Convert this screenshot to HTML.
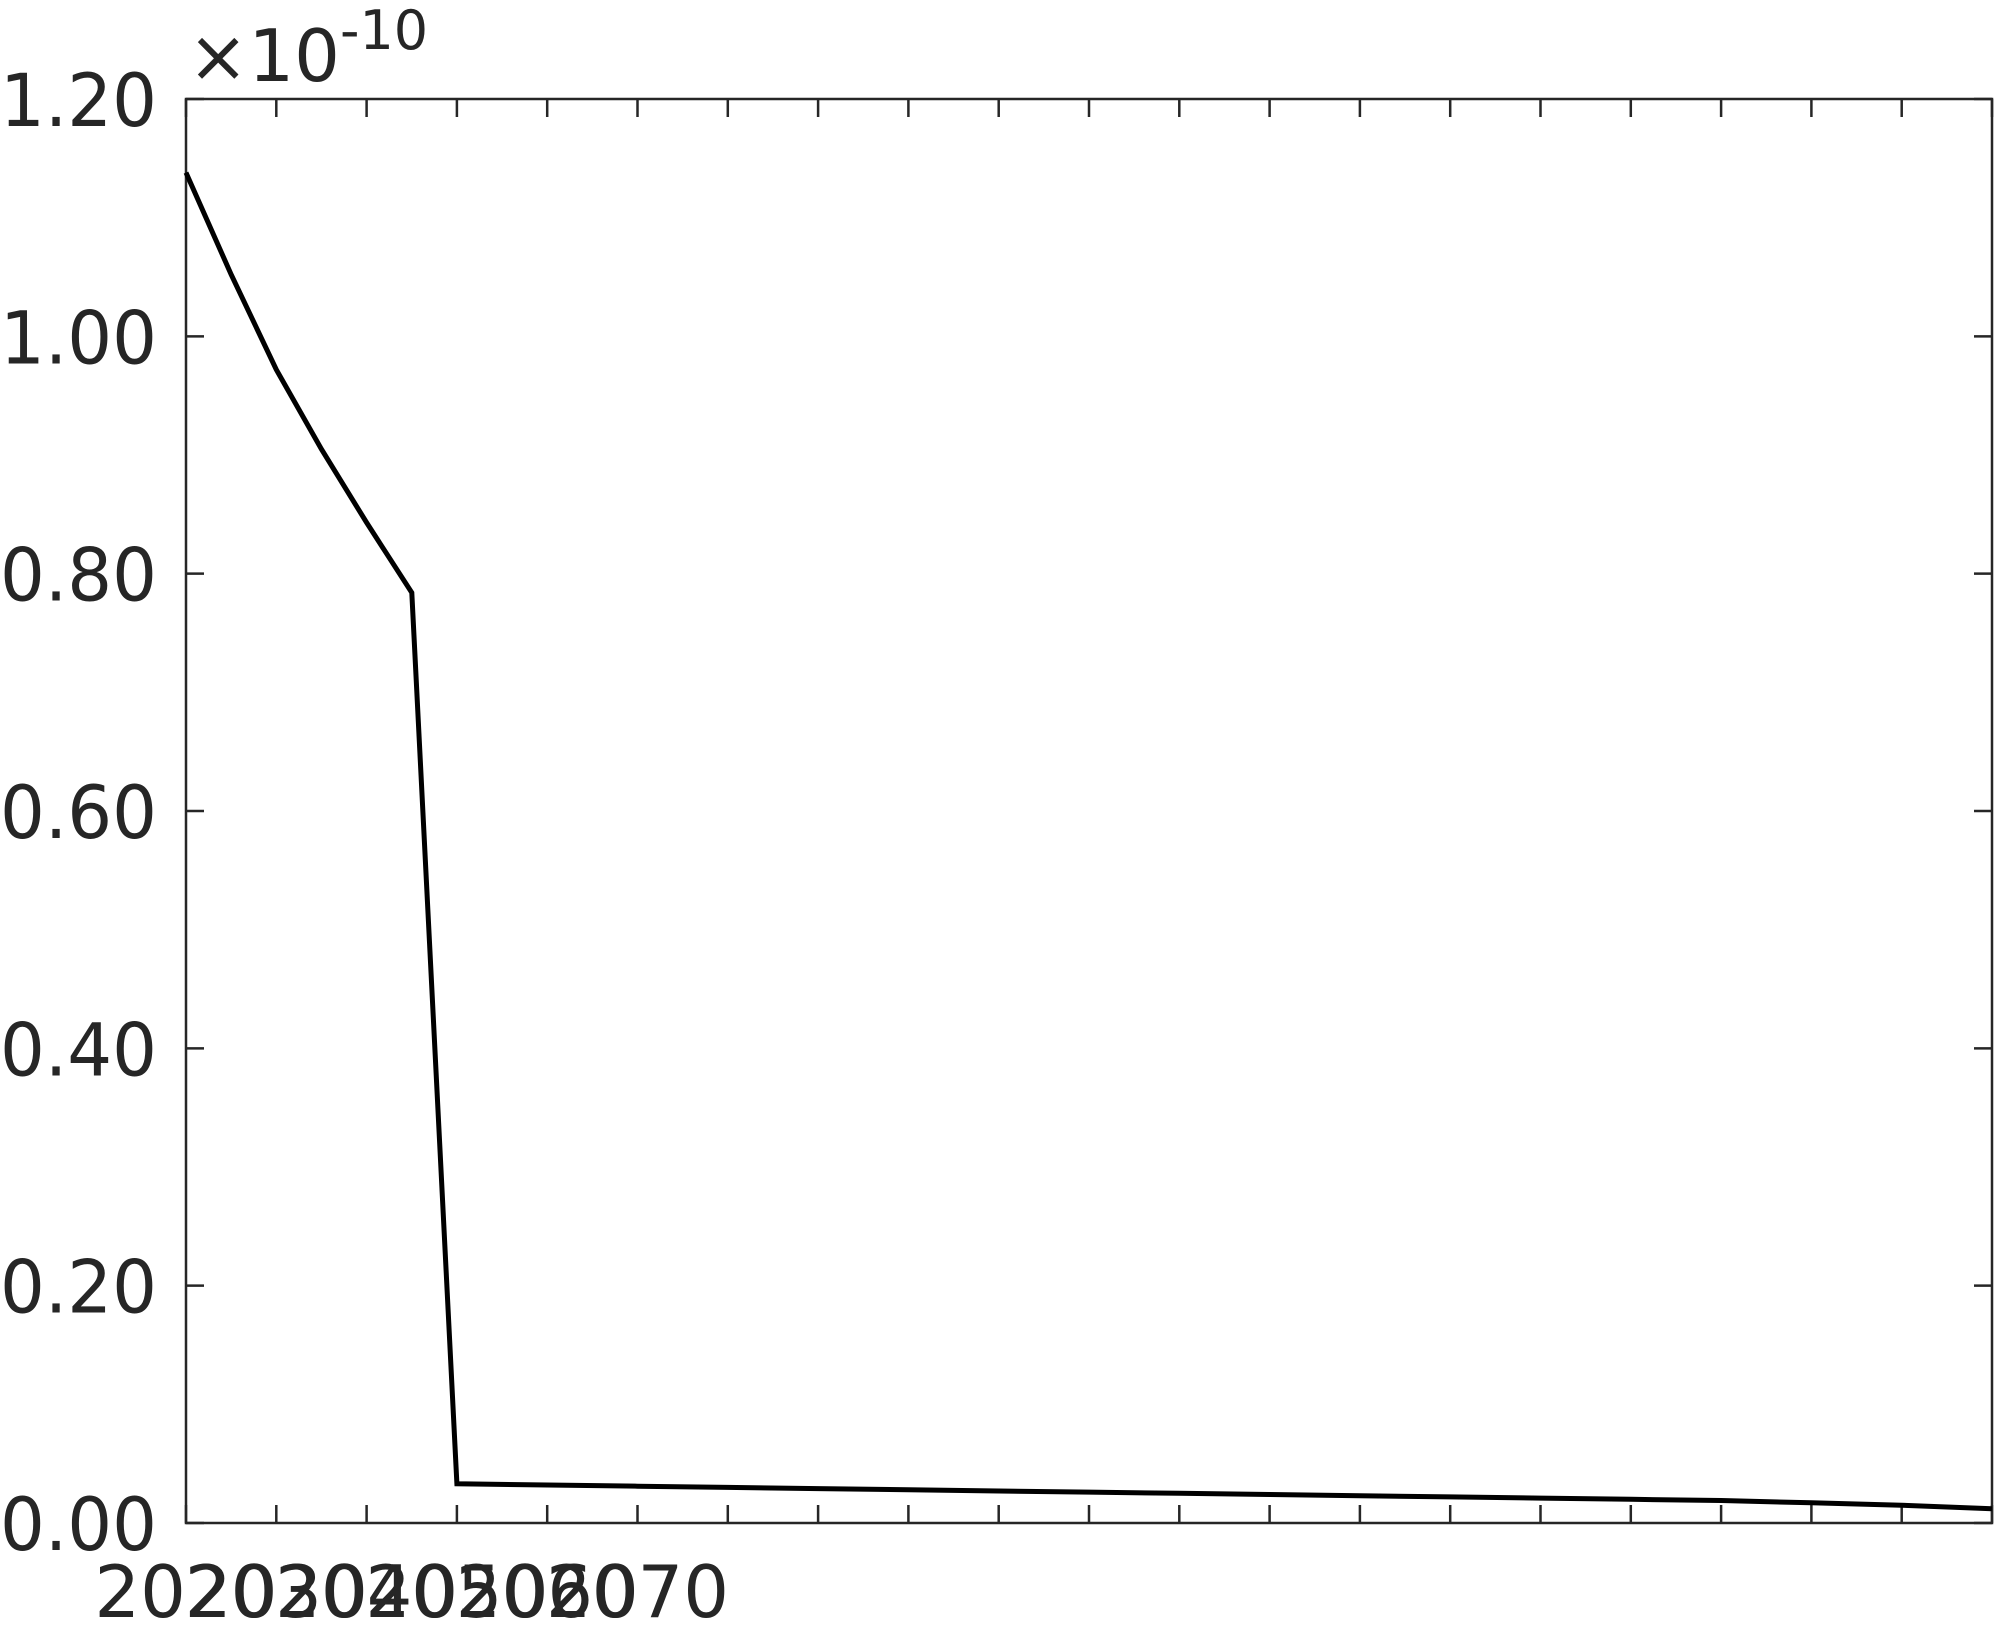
<!DOCTYPE html>
<html><head><meta charset="utf-8"><style>
html,body{margin:0;padding:0;background:#fff;}
svg text{font-family:"DejaVu Sans","Liberation Sans",sans-serif;fill:#262626;}
</style></head><body>
<svg id="chart" width="1996" height="1622" viewBox="0 0 1996 1622" xmlns="http://www.w3.org/2000/svg">
<g id="axes"></g>
</svg>
<script>
const years = [2020,2025,2030,2035,2040,2045,2050,2060,2070,2080,2090,2100,2110,2120,2130,2140,2150,2160,2170,2180,2190,2200,2210,2220];
const values = [1.138,1.052,0.972,0.905,0.843,0.784,0.033,0.032,0.031,0.030,0.029,0.028,0.027,0.026,0.025,0.024,0.023,0.022,0.021,0.020,0.019,0.017,0.015,0.012];
const yTicks = [0,0.2,0.4,0.6,0.8,1.0,1.2];
const yTickLabels = ["0.00","0.20","0.40","0.60","0.80","1.00","1.20"];
const xTicks = [2020,2030,2040,2050,2060,2070,2080,2090,2100,2110,2120,2130,2140,2150,2160,2170,2180,2190,2200,2210,2220];
const xTickLabels = ["2020","2030","2040","2050","2060","2070"];

const L=186,R=1992,T=99,B=1523;
const xMin=2020,xMax=2220,yMin=0,yMax=1.2;
const xs=v=>L+(v-xMin)/(xMax-xMin)*(R-L);
const ys=v=>B-(v-yMin)/(yMax-yMin)*(B-T);
const NS="http://www.w3.org/2000/svg";
const g=document.getElementById('axes');
function mk(tag,attrs){const e=document.createElementNS(NS,tag);for(const k in attrs)e.setAttribute(k,attrs[k]);g.appendChild(e);return e;}

const frame=mk('rect',{x:L,y:T,width:R-L,height:B-T,fill:'none',stroke:'#262626','stroke-width':2.5});



xTicks.forEach((t,i)=>{
  const x=xs(t);
  const a=mk('line',{x1:x,y1:B,x2:x,y2:B-18,stroke:'#262626','stroke-width':2.5});
  
  
  const b=mk('line',{x1:x,y1:T,x2:x,y2:T+18,stroke:'#262626','stroke-width':2.5});
  
  
  if(i<xTickLabels.length){
    const tx=mk('text',{x:x,y:1617,'font-size':72,'text-anchor':'middle'});
    tx.textContent=xTickLabels[i];
    
    
  }
});
yTicks.forEach((t,i)=>{
  const y=ys(t);
  const a=mk('line',{x1:L,y1:y,x2:L+18,y2:y,stroke:'#262626','stroke-width':2.5});
  
  
  const b=mk('line',{x1:R,y1:y,x2:R-18,y2:y,stroke:'#262626','stroke-width':2.5});
  
  
  const tx=mk('text',{x:157,y:y+27,'font-size':73,'text-anchor':'end','textLength':157,'lengthAdjust':'spacingAndGlyphs'});
  tx.textContent=yTickLabels[i];
  
  
});

const exp=mk('text',{x:188,y:81,'font-size':72});


exp.innerHTML='×10<tspan dy="-32" font-size="54">-10</tspan>';

const pts=years.map((y,i)=>xs(y).toFixed(1)+','+ys(values[i]).toFixed(1)).join(' ');
const line=mk('polyline',{points:pts,fill:'none',stroke:'#000','stroke-width':5,'stroke-linejoin':'miter'});


</script>
</body></html>
